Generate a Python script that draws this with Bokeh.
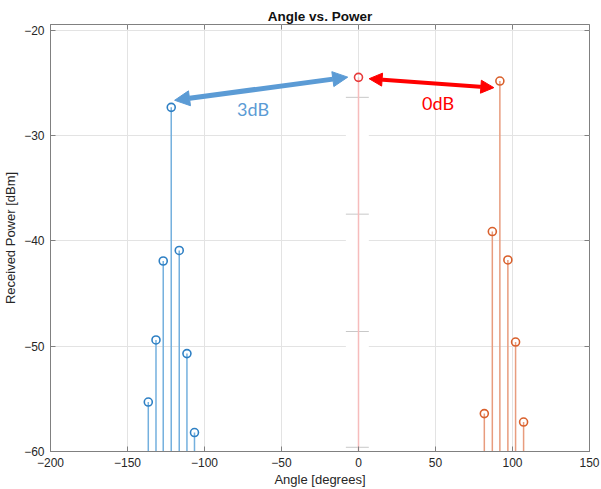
from bokeh.plotting import figure
from bokeh.models import Range1d, Arrow, NormalHead, Label, FixedTicker, ColumnDataSource, LinearAxis
from bokeh.embed import file_html
from bokeh.resources import INLINE

# ---- data ----
blue_angle = [-136.5, -131.5, -126.8, -121.6, -116.4, -111.4, -106.5]
blue_power = [-55.3, -49.4, -41.9, -27.3, -40.9, -50.7, -58.2]
orange_angle = [81.7, 86.9, 91.8, 97.0, 102.0, 107.2]
orange_power = [-56.4, -39.1, -24.8, -41.8, -49.6, -57.2]
ref_angle = [0.0]
ref_power = [-24.45]
baseline = -60
x_ticks = [-200, -150, -100, -50, 0, 50, 100, 150]
y_ticks = [-60, -50, -40, -30, -20]
# pasted-image artefact around the 0-degree stem
patch_marks = [-26.35, -37.45, -48.6, -59.6]

FONT = "Liberation Sans"
AXC = "#808080"
TXT = "#262626"

p = figure(width=601, height=489, output_backend="svg", toolbar_location=None,
           x_range=Range1d(-200, 150), y_range=Range1d(-60, -19.43),
           min_border_left=49, min_border_right=12, min_border_top=24, min_border_bottom=37)

p.title.text = "Angle vs. Power"
p.title.align = "center"
p.title.text_font = FONT
p.title.text_font_size = "13.5px"
p.title.text_font_style = "bold"
p.title.text_color = "#111111"
p.title.standoff = 2
p.title.offset = 0

p.outline_line_color = AXC
p.outline_line_width = 1
p.background_fill_color = "white"
p.border_fill_color = "white"

for ax, ticks, lab in ((p.xaxis[0], x_ticks, "Angle [degrees]"), (p.yaxis[0], y_ticks, "Received Power [dBm]")):
    ax.ticker = FixedTicker(ticks=ticks)
    ax.axis_label = lab
    ax.axis_label_text_font = FONT
    ax.axis_label_text_font_size = "13px"
    ax.axis_label_text_font_style = "normal"
    ax.axis_label_text_color = TXT
    ax.major_label_text_font = FONT
    ax.major_label_text_font_size = "12px"
    ax.major_label_text_color = TXT
    ax.axis_line_color = AXC
    ax.major_tick_line_color = AXC
    ax.major_tick_in = 5
    ax.major_tick_out = 0
    ax.minor_tick_line_color = None
    ax.major_label_standoff = 6
    ax.axis_label_standoff = 2

p.yaxis[0].axis_label_standoff = 3

# mirrored inward ticks on the top and right edges (MATLAB box style)
for ticks, side in ((x_ticks, "above"), (y_ticks, "right")):
    mirror = LinearAxis(ticker=FixedTicker(ticks=ticks), axis_line_color=None,
                        major_tick_line_color=AXC, major_tick_in=5, major_tick_out=0,
                        minor_tick_line_color=None, major_label_text_font_size="0px",
                        major_label_text_color=None, major_label_standoff=0)
    p.add_layout(mirror, side)

p.xgrid.ticker = FixedTicker(ticks=x_ticks)
p.ygrid.ticker = FixedTicker(ticks=y_ticks)
p.grid.grid_line_color = "#e3e3e3"
p.grid.grid_line_width = 1

# white strip artefact
p.quad(left=-8.2, right=6.7, bottom=baseline, top=-24.85, fill_color="white", line_color=None)
p.segment(x0=[-8.2] * len(patch_marks), x1=[6.7] * len(patch_marks), y0=patch_marks, y1=patch_marks,
          line_color="#c8c8c8", line_width=1)

blue = ColumnDataSource(dict(x=blue_angle, y=blue_power))
orange = ColumnDataSource(dict(x=orange_angle, y=orange_power))
ref = ColumnDataSource(dict(x=ref_angle, y=ref_power))

p.segment(x0="x", x1="x", y0=baseline, y1="y", source=blue, line_color="#74b0de", line_width=1.5)
p.scatter("x", "y", source=blue, marker="circle", size=8, fill_color=None, line_color="#2f80c4", line_width=1.6)

p.segment(x0="x", x1="x", y0=baseline, y1="y", source=orange, line_color="#e89c7e", line_width=1.5)
p.scatter("x", "y", source=orange, marker="circle", size=8, fill_color=None, line_color="#d9602c", line_width=1.6)

p.segment(x0="x", x1="x", y0=baseline, y1="y", source=ref, line_color="#f6bcbc", line_width=1.5)
p.scatter("x", "y", source=ref, marker="circle", size=8, fill_color=None, line_color="#e63b3b", line_width=1.6)

# annotations
BLUE_A = "#5b9bd5"
RED_A = "#ff0000"
p.add_layout(Arrow(x_start=-119.4, y_start=-26.63, x_end=-7.0, y_end=-24.43,
                   line_color=BLUE_A, line_width=5,
                   start=NormalHead(size=15, fill_color=BLUE_A, line_color=BLUE_A),
                   end=NormalHead(size=15, fill_color=BLUE_A, line_color=BLUE_A)))
p.add_layout(Arrow(x_start=6.9, y_start=-24.58, x_end=87.9, y_end=-25.43,
                   line_color=RED_A, line_width=4,
                   start=NormalHead(size=13, fill_color=RED_A, line_color=RED_A),
                   end=NormalHead(size=13, fill_color=RED_A, line_color=RED_A)))
p.add_layout(Label(x=-68.5, y=-27.45, text="3dB", text_align="center", text_baseline="middle",
                   text_font="Lato", text_font_size="18px", text_color=BLUE_A))
p.add_layout(Label(x=51.7, y=-26.9, text="0dB", text_align="center", text_baseline="middle",
                   text_font="Lato", text_font_size="18px", text_color=RED_A))

open("out.html", "w").write(file_html(p, INLINE))
